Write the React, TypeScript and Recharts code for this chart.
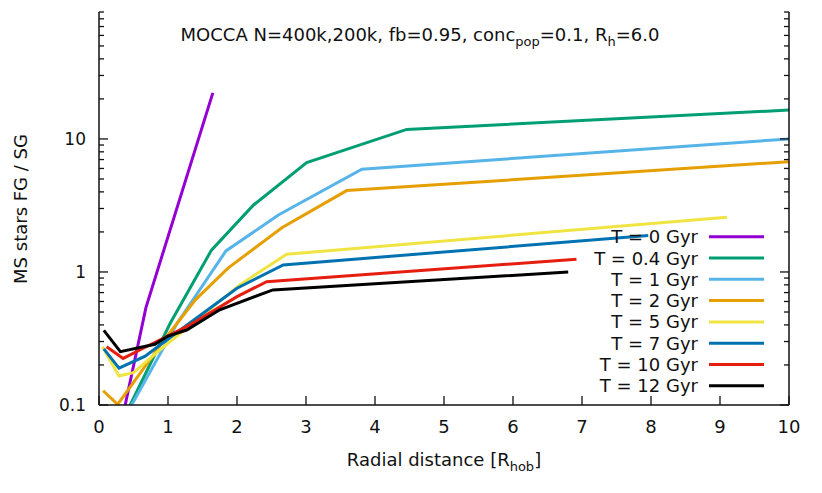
import { Customized, Legend, Line, LineChart, XAxis, YAxis } from 'recharts';

const FONT = '"DejaVu Sans", sans-serif';
const INK = '#111';

const seriesNames = ['T = 0 Gyr', 'T = 0.4 Gyr', 'T = 1 Gyr', 'T = 2 Gyr', 'T = 5 Gyr', 'T = 7 Gyr', 'T = 10 Gyr', 'T = 12 Gyr'];
const seriesColors = ['#9400d3', '#009e73', '#56b4e9', '#e69f00', '#f0e442', '#0072b2', '#e51e10', '#000000'];

// radial distance [R_hob] / FG:SG ratio
const t0R = [0.3, 0.68, 1.65];
const t0Ratio = [0.064, 0.54, 22.2];

const t04R = [0.3, 1.03, 1.63, 2.24, 3.01, 4.46, 10];
const t04Ratio = [0.069, 0.41, 1.46, 3.19, 6.63, 11.8, 16.5];

const t1R = [0.3, 1.13, 1.84, 2.6, 3.81, 10];
const t1Ratio = [0.069, 0.41, 1.44, 2.68, 5.92, 10];

const t2R = [0.06, 0.27, 0.98, 1.4, 1.87, 2.65, 3.59, 10];
const t2Ratio = [0.128, 0.101, 0.326, 0.62, 1.07, 2.15, 4.09, 6.75];

const t5R = [0.05, 0.29, 0.5, 0.88, 2.04, 2.72, 9.1];
const t5Ratio = [0.274, 0.165, 0.175, 0.259, 0.8, 1.36, 2.58];

const t7R = [0.07, 0.29, 0.67, 0.98, 2.0, 2.67, 7.96];
const t7Ratio = [0.264, 0.189, 0.233, 0.308, 0.754, 1.13, 1.88];

const t10R = [0.11, 0.35, 0.59, 1.32, 2.0, 2.43, 6.92];
const t10Ratio = [0.274, 0.224, 0.259, 0.4, 0.652, 0.846, 1.245];

const t12R = [0.07, 0.31, 0.81, 1.0, 1.27, 1.75, 2.52, 6.8];
const t12Ratio = [0.364, 0.252, 0.286, 0.33, 0.366, 0.52, 0.733, 1.0];

const xTicks = [0, 1, 2, 3, 4, 5, 6, 7, 8, 9, 10];
const yTicks = [
  0.1, 0.2, 0.3, 0.4, 0.5, 0.6, 0.7, 0.8, 0.9,
  1, 2, 3, 4, 5, 6, 7, 8, 9,
  10, 20, 30, 40, 50, 60, 70, 80, 90,
];
const yMajor = [0.1, 1, 10];

const zip = (rs: number[], vs: number[]) => rs.map((r, i) => ({ r, ratio: vs[i] }));

const series = [
  zip(t0R, t0Ratio),
  zip(t04R, t04Ratio),
  zip(t1R, t1Ratio),
  zip(t2R, t2Ratio),
  zip(t5R, t5Ratio),
  zip(t7R, t7Ratio),
  zip(t10R, t10Ratio),
  zip(t12R, t12Ratio),
];

const BottomTick = (props: any) => {
  const { x, y, payload } = props;
  return (
    <g>
      <line x1={x} x2={x} y1={y} y2={y - 9} stroke={INK} strokeWidth={1.3} />
      <text x={x} y={y + 28} textAnchor="middle" fontSize={18} fontFamily={FONT} fill={INK}>
        {payload.value}
      </text>
    </g>
  );
};

const TopTick = (props: any) => {
  const { x, y } = props;
  return <line x1={x} x2={x} y1={y} y2={y + 9} stroke={INK} strokeWidth={1.3} />;
};

const LeftTick = (props: any) => {
  const { x, y, payload } = props;
  const major = yMajor.includes(payload.value);
  return (
    <g>
      <line x1={x} x2={x + (major ? 9 : 5)} y1={y} y2={y} stroke={INK} strokeWidth={1.3} />
      {major && (
        <text x={x - 13} y={y + 6} textAnchor="end" fontSize={17} fontFamily={FONT} fill={INK}>
          {payload.value}
        </text>
      )}
    </g>
  );
};

const RightTick = (props: any) => {
  const { x, y, payload } = props;
  const major = yMajor.includes(payload.value);
  return <line x1={x} x2={x - (major ? 9 : 5)} y1={y} y2={y} stroke={INK} strokeWidth={1.3} />;
};

const Texts = () => (
  <g fontFamily={FONT} fill={INK}>
    <text x={420} y={41} textAnchor="middle" fontSize={18}>
      MOCCA N=400k,200k, fb=0.95, conc
      <tspan dy={5} fontSize={13}>pop</tspan>
      <tspan dy={-5}>=0.1, R</tspan>
      <tspan dy={5} fontSize={13}>h</tspan>
      <tspan dy={-5}>=6.0</tspan>
    </text>
    <text transform="translate(27,209) rotate(-90)" textAnchor="middle" fontSize={18}>
      MS stars FG / SG
    </text>
    <text x={444} y={466} textAnchor="middle" fontSize={18}>
      Radial distance [R
      <tspan dy={5} fontSize={13}>hob</tspan>
      <tspan dy={-5}>]</tspan>
    </text>
  </g>
);

// keep gnuplot's key order (series order), not recharts' sorted payload
const renderLegend = () => (
  <svg width={215} height={175} style={{ display: 'block' }}>
    {seriesNames.map((name, i) => {
      const cy = 10.7 + i * 21.3;
      return (
        <g key={name}>
          <text x={138} y={cy + 6.5} textAnchor="end" fontSize={18} fontFamily={FONT} fill={INK}>
            {name}
          </text>
          <line x1={149} x2={204} y1={cy} y2={cy} stroke={seriesColors[i]} strokeWidth={3} />
        </g>
      );
    })}
  </svg>
);

export default function App() {
  return (
    <div style={{ position: 'absolute', left: 0, top: 0, background: '#fff' }}>
      <LineChart width={822} height={493} margin={{ top: 12, right: 0, bottom: 0, left: 0 }}>
        <XAxis
          dataKey="r"
          type="number"
          domain={[0, 10]}
          ticks={xTicks}
          interval={0}
          height={88}
          tickSize={0}
          tickMargin={0}
          tick={<BottomTick />}
          axisLine={{ stroke: INK, strokeWidth: 1.5 }}
          tickLine={false}
        />
        <XAxis
          xAxisId="top"
          orientation="top"
          type="number"
          domain={[0, 10]}
          ticks={xTicks}
          interval={0}
          height={0}
          tickSize={0}
          tickMargin={0}
          tick={<TopTick />}
          axisLine={{ stroke: INK, strokeWidth: 1.5 }}
          tickLine={false}
        />
        <YAxis
          scale="log"
          domain={[0.1, 90]}
          allowDataOverflow
          ticks={yTicks}
          interval={0}
          width={99}
          tickSize={0}
          tickMargin={0}
          tick={<LeftTick />}
          axisLine={{ stroke: INK, strokeWidth: 1.5 }}
          tickLine={false}
        />
        <YAxis
          yAxisId="right"
          orientation="right"
          scale="log"
          domain={[0.1, 90]}
          allowDataOverflow
          ticks={yTicks}
          interval={0}
          width={33}
          tickSize={0}
          tickMargin={0}
          tick={<RightTick />}
          axisLine={{ stroke: INK, strokeWidth: 1.5 }}
          tickLine={false}
        />
        {series.map((data, i) => (
          <Line
            key={seriesNames[i]}
            data={data}
            dataKey="ratio"
            name={seriesNames[i]}
            type="linear"
            stroke={seriesColors[i]}
            strokeWidth={3}
            dot={false}
            activeDot={false}
            isAnimationActive={false}
          />
        ))}
        <Legend
          layout="horizontal"
          verticalAlign="middle"
          align="center"
          content={renderLegend}
          wrapperStyle={{ left: 560, top: 226, width: 215, height: 175 }}
        />
        <Customized component={Texts} />
      </LineChart>
    </div>
  );
}
